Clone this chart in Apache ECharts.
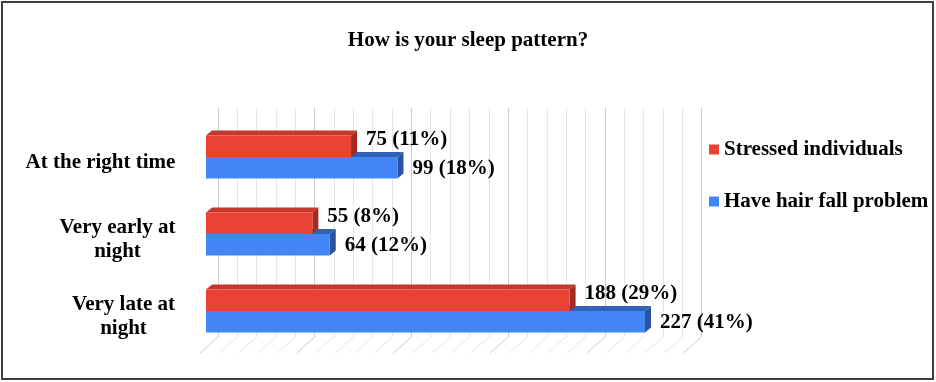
<!DOCTYPE html>
<html><head><meta charset="utf-8">
<script src="https://cdn.jsdelivr.net/npm/echarts@6/dist/echarts.min.js"></script>
<style>html,body{margin:0;padding:0;background:#fff}#c{width:936px;height:382px}</style>
</head><body><div id="c"></div>
<script>
// ---- data ----
const chartTitle = 'How is your sleep pattern?';
const categories = ['At the right time', 'Very early at\nnight', 'Very late at\nnight'];
const seriesNames = ['Stressed individuals', 'Have hair fall problem'];
const stressed = [75, 55, 188];
const stressedPct = [11, 8, 29];
const hairFall = [99, 64, 227];
const hairFallPct = [18, 12, 41];
const gridTicks = [0, 10, 20, 30, 40, 50, 60, 70, 80, 90, 100, 110, 120, 130, 140, 150, 160, 170, 180, 190, 200, 210, 220, 230, 240, 250];

// ---- style ----
const FONT = '"Liberation Serif", "Times New Roman", serif';
const FS = 21;
const RED = '#EA4335', RED_TOP = '#C5382B', RED_SIDE = '#A32C22';
const BLUE = '#4285F4', BLUE_TOP = '#3262B5', BLUE_SIDE = '#2A53A0';

// measure widest line of each category label so lines centre within the block
const cv = document.createElement('canvas').getContext('2d');
cv.font = 'bold ' + FS + 'px ' + FONT;
const rich = {};
categories.forEach((c, i) => {
  const w = Math.max(...c.split('\n').map(l => cv.measureText(l).width));
  rich['r' + i] = { width: Math.ceil(w) + 1, align: 'center', fontSize: FS, fontWeight: 'bold', fontFamily: FONT, color: '#000', lineHeight: 24 };
});

function bar3d(isRed, front, top, side, pcts) {
  return function (params, api) {
    const v = api.value(0), ci = api.value(1);
    const p0 = api.coord([0, ci]);
    const p1 = api.coord([v, ci]);
    const band = api.size([0, 1])[1];
    const h = band * 0.28;
    const y0 = isRed ? p0[1] - h : p0[1];
    const y1 = y0 + h;
    const x0 = p0[0], x1 = p1[0];
    const dx = 6, dy = 5;
    return {
      type: 'group',
      children: [
        { type: 'polygon', shape: { points: [[x0, y0], [x0 + dx, y0 - dy], [x1 + dx, y0 - dy], [x1, y0]] }, style: { fill: top } },
        { type: 'polygon', shape: { points: [[x1, y0], [x1 + dx, y0 - dy], [x1 + dx, y1 - dy], [x1, y1]] }, style: { fill: side } },
        { type: 'rect', shape: { x: x0, y: y0, width: x1 - x0, height: h }, style: { fill: front } },
        { type: 'text', x: x1 + 15, y: (y0 + y1) / 2 + (isRed ? -7 : 1),
          style: { text: v + ' (' + pcts[params.dataIndex] + '%)', fontSize: FS, fontWeight: 'bold', fontFamily: FONT, fill: '#000', verticalAlign: 'middle', align: 'left' } }
      ]
    };
  };
}

const chart = echarts.init(document.getElementById('c'), null, { renderer: 'canvas' });
chart.setOption({
  animation: false,
  backgroundColor: '#fff',
  title: {
    text: chartTitle, left: 'center', top: 30, padding: 0,
    textStyle: { fontFamily: FONT, fontSize: FS, fontWeight: 'bold', color: '#000' }
  },
  legend: {
    orient: 'vertical', left: 709, top: 139, padding: 0,
    itemWidth: 10, itemHeight: 10, itemGap: 31, icon: 'rect',
    data: seriesNames,
    textStyle: { fontFamily: FONT, fontSize: FS, fontWeight: 'bold', color: '#000' }
  },
  grid: [
    { left: 218, top: 108, width: 483.5, height: 229 },
    { left: 206, top: 118.5, width: 483.5, height: 231 }
  ],
  xAxis: [
    { gridIndex: 0, type: 'value', min: 0, max: 250, interval: 10,
      axisLabel: { show: false }, axisLine: { show: false }, axisTick: { show: false },
      splitLine: { show: true, lineStyle: { width: 1, color: ['#cdcdcd', '#e6e6e6', '#e6e6e6', '#e6e6e6', '#e6e6e6'] } } },
    { gridIndex: 1, type: 'value', min: 0, max: 250, show: false }
  ],
  yAxis: [
    { gridIndex: 0, type: 'value', min: 0, max: 1, show: false },
    { gridIndex: 1, type: 'category', data: categories, inverse: true,
      axisLine: { show: false }, axisTick: { show: false },
      axisLabel: {
        margin: 30, padding: [12, 0, 0, 0],
        formatter: (val, idx) => val.split('\n').map(l => '{r' + idx + '|' + l + '}').join('\n'),
        rich: rich
      } }
  ],
  series: [
    { type: 'custom', name: 'floor', xAxisIndex: 0, yAxisIndex: 0, z: 1, silent: true,
      data: gridTicks.map(v => [v, 0]),
      renderItem: function (params, api) {
        const p = api.coord([api.value(0), 0]);
        const major = api.value(0) % 50 === 0;
        return { type: 'line', shape: { x1: p[0], y1: p[1], x2: p[0] - 18, y2: p[1] + 16 },
          style: { stroke: major ? '#cdcdcd' : '#e6e6e6', lineWidth: 1 } };
      } },
    { type: 'custom', name: seriesNames[1], xAxisIndex: 1, yAxisIndex: 1, z: 2,
      itemStyle: { color: BLUE },
      encode: { x: 0, y: 1 },
      data: hairFall.map((v, i) => [v, i]),
      renderItem: bar3d(false, BLUE, BLUE_TOP, BLUE_SIDE, hairFallPct) },
    { type: 'custom', name: seriesNames[0], xAxisIndex: 1, yAxisIndex: 1, z: 3,
      itemStyle: { color: RED },
      encode: { x: 0, y: 1 },
      data: stressed.map((v, i) => [v, i]),
      renderItem: bar3d(true, RED, RED_TOP, RED_SIDE, stressedPct) }
  ],
  graphic: [
    { type: 'rect', silent: true, shape: { x: 2, y: 2, width: 931, height: 377 },
      style: { fill: null, stroke: '#404040', lineWidth: 2 }, z: 100 }
  ]
});
</script>
</body></html>
